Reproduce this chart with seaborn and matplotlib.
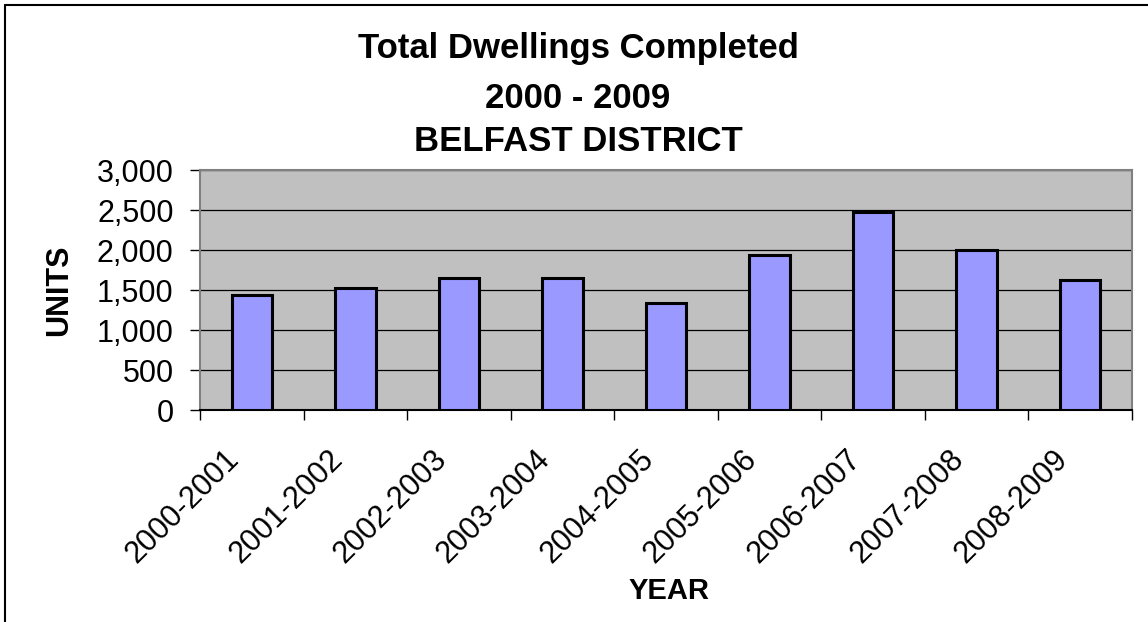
import matplotlib
matplotlib.use('Agg')
import matplotlib.pyplot as plt
import seaborn as sns
import pandas as pd
from matplotlib.lines import Line2D
from matplotlib.transforms import ScaledTranslation

years = ['2000-2001', '2001-2002', '2002-2003', '2003-2004', '2004-2005',
         '2005-2006', '2006-2007', '2007-2008', '2008-2009']
units = [1440, 1530, 1655, 1655, 1340, 1935, 2470, 2005, 1630]
y_ticks = [0, 500, 1000, 1500, 2000, 2500, 3000]
title_lines = ['Total Dwellings Completed', '2000 - 2009', 'BELFAST DISTRICT']

sns.set_style('white')
plt.rcParams['font.family'] = ['Liberation Sans', 'DejaVu Sans']
for k in ['text.color', 'axes.labelcolor', 'xtick.color', 'ytick.color']:
    plt.rcParams[k] = 'black'

W, H = 1148, 622
fig = plt.figure(figsize=(W / 100, H / 100), dpi=100)
ax = fig.add_axes([200 / W, 1 - 410 / H, 932 / W, 240 / H])

df = pd.DataFrame({'year': years, 'units': units})
sns.barplot(data=df, x='year', y='units', color='#9999FF', saturation=1,
            edgecolor='black', linewidth=2.2, width=0.39, ax=ax, zorder=3)

ax.set_facecolor('#C0C0C0')
ax.set_xlim(-0.5, len(years) - 0.5)
ax.set_ylim(0, 3000)
ax.set_yticks(y_ticks)
ax.set_yticklabels([f'{v:,}' for v in y_ticks], fontsize=22)
ax.yaxis.grid(True, color='black', linewidth=0.9, zorder=1)
ax.set_axisbelow(True)

ax.set_xticks(range(len(years)))
ax.set_xticklabels(years, rotation=45, ha='right', va='center',
                   rotation_mode='anchor', fontsize=22)
ax.set_xticks([i - 0.5 for i in range(len(years) + 1)], minor=True)
ax.tick_params(axis='x', which='major', length=0, pad=32)
ax.tick_params(axis='x', which='minor', length=7, width=1, color='black', direction='out', bottom=True)
ax.tick_params(axis='y', which='major', length=7, width=1, color='black', direction='out', left=True, pad=12)
shift = ScaledTranslation(-17 / 100, 0, fig.dpi_scale_trans)
for lbl in ax.get_xticklabels():
    lbl.set_transform(lbl.get_transform() + shift)

for side in ['left', 'top', 'right']:
    ax.spines[side].set_color('#808080')
    ax.spines[side].set_linewidth(1.5)
ax.spines['bottom'].set_color('black')
ax.spines['bottom'].set_linewidth(1.5)

ax.set_ylabel('UNITS', fontsize=22, fontweight='bold')
ax.yaxis.set_label_coords((59 - 200) / 932, 0.5)
ax.yaxis.label.set_va('center')
ax.set_xlabel('YEAR', fontsize=21, fontweight='bold')
ax.xaxis.set_label_coords((669 - 200) / 932, (410 - 591) / 240)
ax.xaxis.label.set_va('center')

for line, yb in zip(title_lines, [58, 107.5, 151]):
    fig.text(578 / W, 1 - yb / H, line, ha='center', va='baseline',
             fontsize=25, fontweight='bold')

fig.add_artist(Line2D([5 / W, 1], [1 - 5 / H, 1 - 5 / H], color='black', linewidth=1.5, transform=fig.transFigure))
fig.add_artist(Line2D([5 / W, 5 / W], [0, 1 - 5 / H], color='black', linewidth=1.5, transform=fig.transFigure))

fig.savefig('out.png', dpi=100)
